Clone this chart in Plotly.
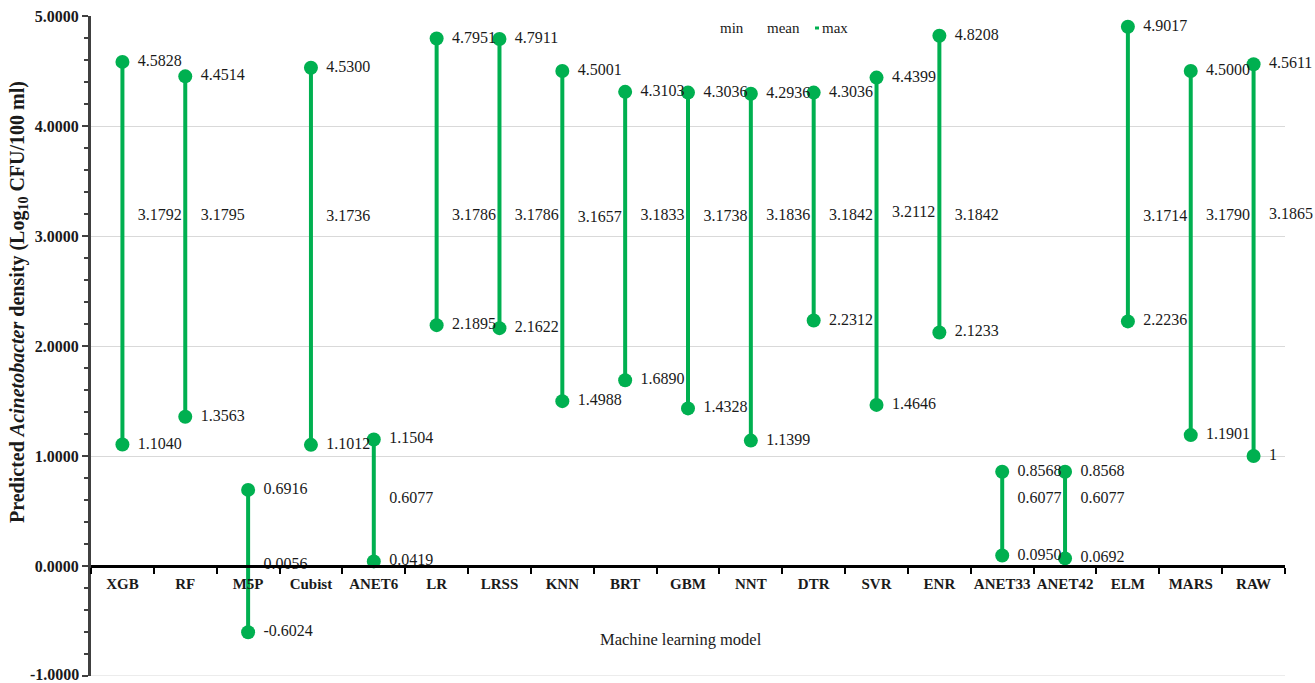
import plotly.graph_objects as go

# Model names and predicted density summary (Log10 CFU/100 ml)
models = ["XGB", "RF", "M5P", "Cubist", "ANET6", "LR", "LRSS", "KNN", "BRT", "GBM",
          "NNT", "DTR", "SVR", "ENR", "ANET33", "ANET42", "ELM", "MARS", "RAW"]
max_vals = [4.5828, 4.4514, 0.6916, 4.5300, 1.1504, 4.7951, 4.7911, 4.5001, 4.3103, 4.3036,
            4.2936, 4.3036, 4.4399, 4.8208, 0.8568, 0.8568, 4.9017, 4.5000, 4.5611]
mean_vals = [3.1792, 3.1795, 0.0056, 3.1736, 0.6077, 3.1786, 3.1786, 3.1657, 3.1833, 3.1738,
             3.1836, 3.1842, 3.2112, 3.1842, 0.6077, 0.6077, 3.1714, 3.1790, 3.1865]
min_vals = [1.1040, 1.3563, -0.6024, 1.1012, 0.0419, 2.1895, 2.1622, 1.4988, 1.6890, 1.4328,
            1.1399, 2.2312, 1.4646, 2.1233, 0.0950, 0.0692, 2.2236, 1.1901, 1.0]
y_ticks = [-1, 0, 1, 2, 3, 4, 5]

GREEN = "#00B050"
FONT = "Liberation Serif"
TXT = "#1a1a1a"
Y0, Y1 = -1.0, 5.0


def fmt(v):
    # whole numbers print in general format, others with four decimals
    return str(int(v)) if float(v).is_integer() else f"{v:.4f}"


def py(px):
    # pixel row -> paper fraction of the plot area (top 16, bottom 676)
    return (676 - px) / 660


def px_x(px):
    # pixel column -> paper fraction of the plot area (left 91, right 1285)
    return (px - 91) / 1194


fig = go.Figure()

# min–max range segments
seg_x, seg_y = [], []
for m, lo, hi in zip(models, min_vals, max_vals):
    seg_x += [m, m, None]
    seg_y += [lo, hi, None]
fig.add_trace(go.Scatter(x=seg_x, y=seg_y, mode="lines", line=dict(color=GREEN, width=4),
                         hoverinfo="skip", showlegend=False))

# min and max end points
fig.add_trace(go.Scatter(x=models + models, y=max_vals + min_vals, mode="markers",
                         marker=dict(color=GREEN, size=14), showlegend=False))

# value labels, placed right of each point
label_font = dict(family=FONT, size=16, color=TXT)
for name, vals in (("max", max_vals), ("mean", mean_vals), ("min", min_vals)):
    fig.add_trace(go.Scatter(x=models, y=vals, mode="markers+text", name=name,
                             marker=dict(color="rgba(0,0,0,0)", size=23),
                             text=[fmt(v) for v in vals], textposition="middle right",
                             textfont=label_font, cliponaxis=False, showlegend=False))

# gridline at the bottom edge
fig.add_shape(type="line", xref="paper", yref="y", x0=0, x1=1, y0=Y0, y1=Y0,
              line=dict(color="#d9d9d9", width=1), layer="below")

# legend text
leg_font = dict(family=FONT, size=15, color=TXT)
for txt, cx in (("min", 732), ("mean", 783), ("max", 835)):
    fig.add_annotation(xref="paper", yref="paper", x=px_x(cx), y=py(28),
                       xanchor="center", yanchor="middle",
                       text=txt, showarrow=False, font=leg_font)
fig.add_shape(type="line", xref="paper", yref="paper",
              x0=px_x(815), x1=px_x(819), y0=py(28), y1=py(28),
              line=dict(color=GREEN, width=3))

# bottom tick label of the value axis
fig.add_annotation(xref="paper", yref="y", x=px_x(81), y=Y0, xanchor="right",
                   yanchor="middle", yshift=2,
                   text="<b>%.4f</b>" % Y0, showarrow=False,
                   font=dict(family=FONT, size=16, color=TXT))

# axis titles
fig.add_annotation(xref="paper", yref="paper", x=px_x(681), y=py(639),
                   xanchor="center", yanchor="middle",
                   text="Machine learning model", showarrow=False,
                   font=dict(family=FONT, size=16.5, color=TXT))
fig.add_annotation(xref="paper", yref="paper", x=px_x(18), y=py(302), textangle=-90,
                   xanchor="center", yanchor="middle",
                   text="<b>Predicted <i>Acinetobacter</i> density (Log<sub>10</sub> CFU/100 ml)</b>",
                   showarrow=False, font=dict(family=FONT, size=20, color=TXT))

fig.update_layout(
    width=1315, height=683,
    margin=dict(l=91, r=30, t=16, b=7),
    plot_bgcolor="white", paper_bgcolor="white",
    font=dict(family=FONT, color=TXT),
    xaxis=dict(
        type="category", categoryorder="array", categoryarray=models,
        range=[-0.5, len(models) - 0.5],
        anchor="free", position=(0 - Y0) / (Y1 - Y0),
        showline=True, linecolor="black", linewidth=3,
        ticks="outside", tickson="boundaries", ticklen=6, tickwidth=2, tickcolor="black",
        tickangle=0, ticklabelstandoff=3,
        tickfont=dict(family=FONT, size=15, color=TXT, weight="bold"),
        showgrid=False, zeroline=False,
    ),
    yaxis=dict(
        range=[Y0, Y1], tickvals=y_ticks, ticktext=[f"{v:.4f}" for v in y_ticks],
        showline=True, linecolor="#404040", linewidth=3,
        ticks="outside", ticklen=6, tickwidth=2, tickcolor="#404040",
        minor=dict(dtick=0.2, ticks="outside", ticklen=4, tickwidth=2, tickcolor="#404040",
                   showgrid=False),
        tickfont=dict(family=FONT, size=16, color=TXT, weight="bold"),
        showgrid=True, gridcolor="#d9d9d9", gridwidth=1, zeroline=False,
    ),
)

fig.write_html("out.html")
